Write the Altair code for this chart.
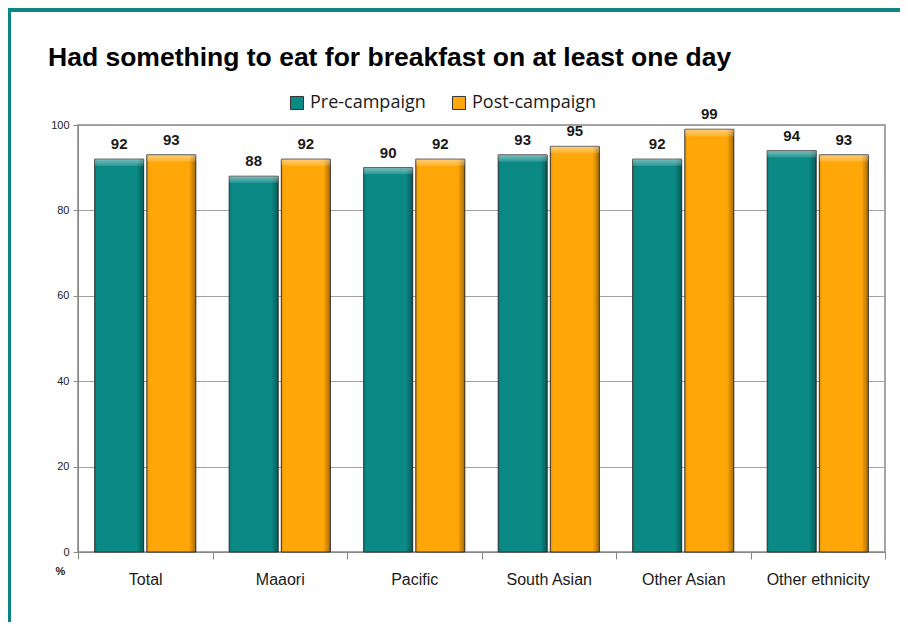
import altair as alt
import pandas as pd

categories = ["Total", "Maaori", "Pacific", "South Asian", "Other Asian", "Other ethnicity"]
series = ["Pre-campaign", "Post-campaign"]
pre_values = [92, 88, 90, 93, 92, 94]
post_values = [93, 92, 92, 95, 99, 93]
colors = ["#0A8985", "#FFA608"]
title_text = "Had something to eat for breakfast on at least one day"

rows = []
for c, a, b in zip(categories, pre_values, post_values):
    rows.append({"group": c, "series": series[0], "value": a})
    rows.append({"group": c, "series": series[1], "value": b})
df = pd.DataFrame(rows)

W, H = 807, 427
FONT = "Arial, Liberation Sans, sans-serif"

x = alt.X("group:N", sort=categories, title=None,
          scale=alt.Scale(paddingInner=0, paddingOuter=0),
          axis=alt.Axis(tickBand="extent", labelFontSize=16, labelFont=FONT,
                        labelColor="#1a1a1a", labelPadding=12, tickSize=7, tickColor="#888",
                        domainColor="#888", labelAngle=0, grid=False))
xo = alt.XOffset("series:N", sort=series,
                 scale=alt.Scale(paddingInner=0.06, paddingOuter=0.32))
y = alt.Y("value:Q", scale=alt.Scale(domain=[0, 100], nice=False),
          axis=alt.Axis(values=[0, 20, 40, 60, 80, 100], title="%", titleAngle=0,
                        titleX=-18, titleY=H + 24, titleFontSize=11, titleFont=FONT,
                        titleFontWeight="bold", titleColor="#1a1a1a",
                        labelFontSize=11, labelFont=FONT, labelColor="#1a1a1a",
                        labelPadding=4, tickSize=5, tickColor="#888", domainColor="#888",
                        gridColor="#a0a0a0", gridWidth=1))

base = alt.Chart(df)

bars = base.mark_bar(stroke="#333333", strokeWidth=1).encode(
    x=x, xOffset=xo, y=y,
    color=alt.Color("series:N", sort=series,
                    scale=alt.Scale(domain=series, range=colors),
                    legend=alt.Legend(title=None, orient="none", direction="horizontal",
                                      legendX=210, legendY=-31, symbolType="square",
                                      symbolSize=170, symbolStrokeColor="#333",
                                      symbolStrokeWidth=1, labelFontSize=18,
                                      labelFont="Open Sans", labelColor="#1a1a1a",
                                      columnPadding=24, labelOffset=4)),
)

side_shade = base.mark_bar(
    fill=alt.LinearGradient(gradient="linear", x1=0, x2=1, y1=0, y2=0, stops=[
        alt.GradientStop(offset=0, color="rgba(0,0,0,0.10)"),
        alt.GradientStop(offset=0.06, color="rgba(0,0,0,0)"),
        alt.GradientStop(offset=0.86, color="rgba(0,0,0,0)"),
        alt.GradientStop(offset=1, color="rgba(0,0,0,0.35)"),
    ])
).encode(x=x, xOffset=xo, y=y)

top_bevel = base.mark_bar(
    fill=alt.LinearGradient(gradient="linear", x1=0, x2=0, y1=0, y2=1, stops=[
        alt.GradientStop(offset=0, color="rgba(255,255,255,0.45)"),
        alt.GradientStop(offset=0.016, color="rgba(255,255,255,0.15)"),
        alt.GradientStop(offset=0.018, color="rgba(255,255,255,0)"),
        alt.GradientStop(offset=1, color="rgba(255,255,255,0)"),
    ])
).encode(x=x, xOffset=xo, y=y)

labels = base.mark_text(baseline="bottom", dy=-7, fontSize=15, fontWeight="bold",
                        font=FONT, color="#1a1a1a").encode(
    x=x, xOffset=xo, y=y, text=alt.Text("value:Q"),
)

title = alt.Chart(pd.DataFrame({"t": [title_text]})).mark_text(
    align="left", baseline="alphabetic", fontSize=26.5, fontWeight="bold",
    font=FONT, color="#000000"
).encode(text="t:N", x=alt.value(-30), y=alt.value(-59))

border_top = base.mark_rule(color="#0B8682", strokeWidth=4).encode(
    x=alt.value(-70), x2=alt.value(W + 40), y=alt.value(-115)
)
border_left = base.mark_rule(color="#0B8682", strokeWidth=3).encode(
    x=alt.value(-69), y=alt.value(-117), y2=alt.value(H + 70)
)

chart = alt.layer(border_top, border_left, title, bars, side_shade, top_bevel, labels).properties(
    width=W, height=H,
    padding={"left": 70, "top": 117, "right": 15, "bottom": 72},
    autosize=alt.AutoSizeParams(type="none"),
).configure_view(stroke="#888888", strokeWidth=1.5)

chart.save("out.html", embed_options={"renderer": "svg", "actions": False})
